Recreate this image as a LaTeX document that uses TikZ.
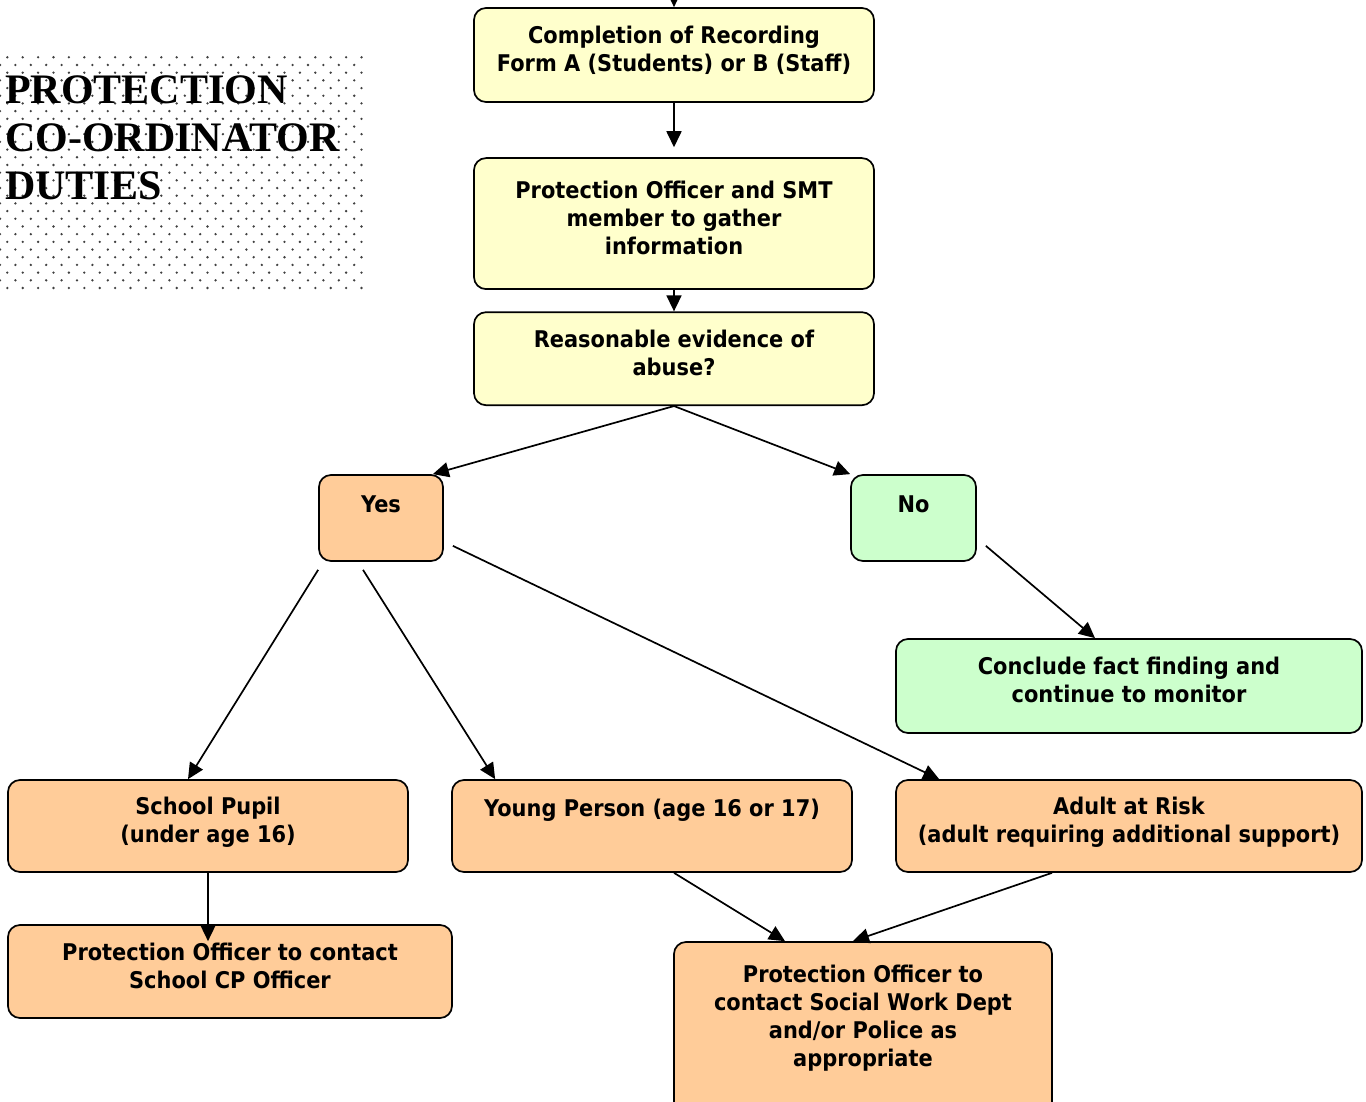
\documentclass[tikz,border=0pt]{standalone}
\usepackage{fontspec}
\setmainfont{DejaVu Sans}[FakeStretch=0.91]
\newfontfamily\titlefont{Liberation Serif}
\usepackage{xcolor}
\usetikzlibrary{arrows.meta, positioning}

\definecolor{boxyellow}{HTML}{FFFFCC}
\definecolor{boxorange}{HTML}{FFCC99}
\definecolor{boxgreen}{HTML}{CCFFCC}
\definecolor{dotgray}{HTML}{404040}
\newcommand{\padline}{\rule[-12pt]{0pt}{0pt}}

\begin{document}
\begin{tikzpicture}[
  x=1pt, y=-1pt,
  stage/.style={rectangle, draw, rounded corners=12pt, line width=1.7pt, align=center, inner sep=0pt, font=\fontsize{23}{28}\selectfont\bfseries},
  query/.style={stage, fill=boxyellow, minimum width=400pt},
  yesbox/.style={stage, fill=boxorange},
  nobox/.style={stage, fill=boxgreen},
  answer/.style={minimum width=124pt, minimum height=86pt},
  flow/.style={-{Triangle[length=16pt,width=15pt]}, line width=1.7pt},
]
\useasboundingbox (0,0) rectangle (1366,1102);
\clip (0,0) rectangle (1366,1102);

% dotted panel behind the title
\foreach \r in {0,...,30} {
  \pgfmathsetmacro\dy{57.3+7.69*\r}
  \pgfmathsetmacro\dx{mod(\r,2)==0 ? 7.3 : 0}
  \foreach \c in {0,...,23}
    \fill[dotgray] (\dx+15.4*\c, \dy) circle (1.3pt);
}
\node[anchor=north west, align=left, inner sep=0pt, font=\titlefont\bfseries\fontsize{42}{48}\selectfont] (title) at (5,75) {PROTECTION\\CO-ORDINATOR\\DUTIES};

\node[query, minimum height=94pt] (form) at (674,55) {Completion of Recording\\Form A (Students) or B (Staff)\padline};
\node[query, minimum height=131pt, below=54.4pt of form] (gather) {Protection Officer and SMT\\member to gather\\information\padline};
\node[query, minimum height=93pt, below=21.4pt of gather] (evidence) {Reasonable evidence of\\abuse?\padline};
\node[yesbox, answer] (yes) at (381,518) {Yes\\\mbox{}};
\node[nobox, answer, minimum width=125pt] (no) at (913.5,518) {No\\\mbox{}};
\node[nobox, minimum width=466pt, minimum height=94pt] (conclude) at (1129,686) {Conclude fact finding and\\continue to monitor\padline};
\node[yesbox, minimum width=400pt, minimum height=92pt] (pupil) at (208,826) {School Pupil\\(under age 16)\padline};
\node[yesbox, minimum width=400pt, minimum height=92pt] (young) at (652,826) {Young Person (age 16 or 17)\\\strut};
\node[yesbox, minimum width=466pt, minimum height=92pt] (adult) at (1129,826) {Adult at Risk\\(adult requiring additional support)\padline};
\node[yesbox, minimum width=444pt, minimum height=93pt] (school) at (230,971.5) {Protection Officer to contact\\School CP Officer\padline};
\node[yesbox, minimum width=378pt, minimum height=183pt] (social) at (863,1033.5) {Protection Officer to\\contact Social Work Dept\\and/or Police as\\appropriate\\\strut};

\coordinate (entry) at (674,-4);
\draw[flow] (entry) -- (form);
\draw[flow, shorten >=10pt] (form) -- (gather);
\draw[flow] (gather) -- (evidence);
\draw[flow] (evidence.south) -- ([xshift=-11pt]yes.north east);
\draw[flow] (evidence.south) -- (no.north west);
\draw[flow] ([xshift=9pt,yshift=16pt]no.south east) -- ([xshift=-34pt]conclude.north);
\draw[flow] ([yshift=-8pt]yes.south west) -- ([xshift=-20pt]pupil.north);
\draw[flow] ([xshift=-18pt,yshift=-8pt]yes.south) -- ([xshift=44pt]young.north west);
\draw[flow] ([xshift=9pt,yshift=16pt]yes.south east) -- ([xshift=44pt]adult.north west);
\draw[flow] (pupil.south) -- ([xshift=-22pt,yshift=-17pt]school.north);
\draw[flow] ([xshift=22pt]young.south) -- ([xshift=-78pt]social.north);
\draw[flow] ([xshift=-77pt]adult.south) -- ([xshift=-10pt]social.north);
\end{tikzpicture}
\end{document}
